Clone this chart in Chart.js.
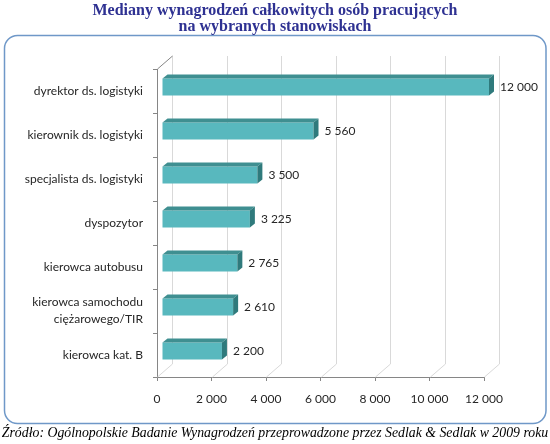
<!DOCTYPE html>
<html>
<head>
<meta charset="utf-8">
<script src="https://cdn.jsdelivr.net/npm/chart.js@4"></script>
<style>
  html, body { margin: 0; padding: 0; background: #fff; }
  canvas { display: block; }
</style>
</head>
<body>
<canvas id="wynagrodzenia" width="550" height="444"></canvas>
<script>
// dane z wykresu
var stanowiska = [
    'dyrektor ds. logistyki',
    'kierownik ds. logistyki',
    'specjalista ds. logistyki',
    'dyspozytor',
    'kierowca autobusu',
    ['kierowca samochodu', 'ciężarowego/TIR'],
    'kierowca kat. B'
];
var mediany = [12000, 5560, 3500, 3225, 2765, 2610, 2200];
var osX = [0, 2000, 4000, 6000, 8000, 10000, 12000];

var tytul = ['Mediany wynagrodzeń całkowitych osób pracujących', 'na wybranych stanowiskach'];
var zrodlo = 'Źródło: Ogólnopolskie Badanie Wynagrodzeń przeprowadzone przez Sedlak & Sedlak w 2009 roku';

// glebokosc "3D"
var DX = 15, DY = 13;   // sciana tylna
var BX = 5, BY = 4;     // przesuniecie i glebokosc slupkow

var czcionka = 'Lato, "Open Sans", sans-serif';

function liczba(v) {
    return String(v).replace(/\B(?=(\d{3})+(?!\d))/g, ' ');
}

var ramkaPlugin = {
    id: 'ramka',
    beforeDraw: function (chart) {
        var c = chart.ctx;
        c.save();
        c.fillStyle = '#fff';
        c.fillRect(0, 0, chart.width, chart.height);
        c.strokeStyle = '#6f98c8';
        c.lineWidth = 1.5;
        c.beginPath();
        c.roundRect(4.5, 35.5, 541.5, 388, 13);
        c.stroke();
        // tytul
        c.fillStyle = '#2e3192';
        c.font = 'bold 16px "Liberation Serif", "Times New Roman", serif';
        c.textAlign = 'center';
        c.textBaseline = 'middle';
        c.fillText(tytul[0], 275, 11);
        c.fillText(tytul[1], 275, 27);
        // zrodlo
        c.fillStyle = '#000';
        c.font = 'italic 13.8px "Liberation Serif", "Times New Roman", serif';
        c.fillText(zrodlo, 275, 433);
        c.restore();
    }
};

var scianaPlugin = {
    id: 'sciana',
    beforeDatasetsDraw: function (chart) {
        var c = chart.ctx, a = chart.chartArea, x = chart.scales.x;
        c.save();
        c.lineWidth = 1;
        c.strokeStyle = '#d9d9d9';
        osX.forEach(function (v) {
            var px = Math.round(x.getPixelForValue(v)) + 0.5;
            c.beginPath();
            c.moveTo(px, a.bottom);
            c.lineTo(px + DX, a.bottom - DY);
            c.lineTo(px + DX, a.top - DY);
            c.stroke();
        });
        c.strokeStyle = '#868686';
        c.beginPath();
        c.moveTo(a.left + 0.5, a.top);
        c.lineTo(a.left + 0.5 + DX, a.top - DY);
        c.stroke();
        c.restore();
        // slupki lekko w glab
        c.save();
        c.translate(BX, -BY);
    },
    afterDatasetsDraw: function (chart) {
        var c = chart.ctx;
        var meta = chart.getDatasetMeta(0);
        meta.data.forEach(function (bar, i) {
            var p = bar.getProps(['x', 'y', 'base', 'height'], true);
            var top = p.y - p.height / 2, bot = p.y + p.height / 2;
            // gora
            c.fillStyle = '#3f8f91';
            c.beginPath();
            c.moveTo(p.base, top);
            c.lineTo(p.base + BX, top - BY);
            c.lineTo(p.x + BX, top - BY);
            c.lineTo(p.x, top);
            c.closePath();
            c.fill();
            // bok
            c.fillStyle = '#2f7a7c';
            c.beginPath();
            c.moveTo(p.x, top);
            c.lineTo(p.x + BX, top - BY);
            c.lineTo(p.x + BX, bot - BY);
            c.lineTo(p.x, bot);
            c.closePath();
            c.fill();
            // etykieta
            c.fillStyle = '#262626';
            c.font = '12px ' + czcionka;
            c.textAlign = 'left';
            c.textBaseline = 'middle';
            c.fillText(liczba(mediany[i]), p.x + BX + 6, p.y);
        });
        c.restore();
    }
};

var ctx = document.getElementById('wynagrodzenia').getContext('2d');
var chart = new Chart(ctx, {
    type: 'bar',
    data: {
        labels: stanowiska,
        datasets: [{
            data: mediany,
            backgroundColor: '#58b8be',
            borderWidth: 0,
            barPercentage: 0.39,
            categoryPercentage: 1
        }]
    },
    options: {
        indexAxis: 'y',
        responsive: false,
        animation: false,
        devicePixelRatio: 1,
        layout: { padding: { top: 69, bottom: 37, left: 0, right: 66 } },
        plugins: {
            legend: { display: false },
            tooltip: { enabled: false }
        },
        scales: {
            x: {
                min: 0,
                max: 12000,
                afterBuildTicks: function (s) {
                    s.ticks = osX.map(function (v) { return { value: v }; });
                },
                afterFit: function (s) { s.height = 30; },
                grid: { drawOnChartArea: false, drawTicks: true, tickLength: 4, color: '#868686' },
                border: { display: true, color: '#868686' },
                ticks: {
                    padding: 11,
                    maxRotation: 0,
                    color: '#262626',
                    font: { family: czcionka, size: 12 },
                    callback: function (v) { return liczba(v); }
                }
            },
            y: {
                afterFit: function (s) { s.width = 157; },
                grid: { drawOnChartArea: false, drawTicks: true, tickLength: 4, color: '#868686', offset: true },
                border: { display: true, color: '#868686' },
                ticks: {
                    padding: 10,
                    color: '#262626',
                    font: { family: czcionka, size: 12, lineHeight: 1.4 }
                }
            }
        }
    },
    plugins: [ramkaPlugin, scianaPlugin]
});
</script>
</body>
</html>
